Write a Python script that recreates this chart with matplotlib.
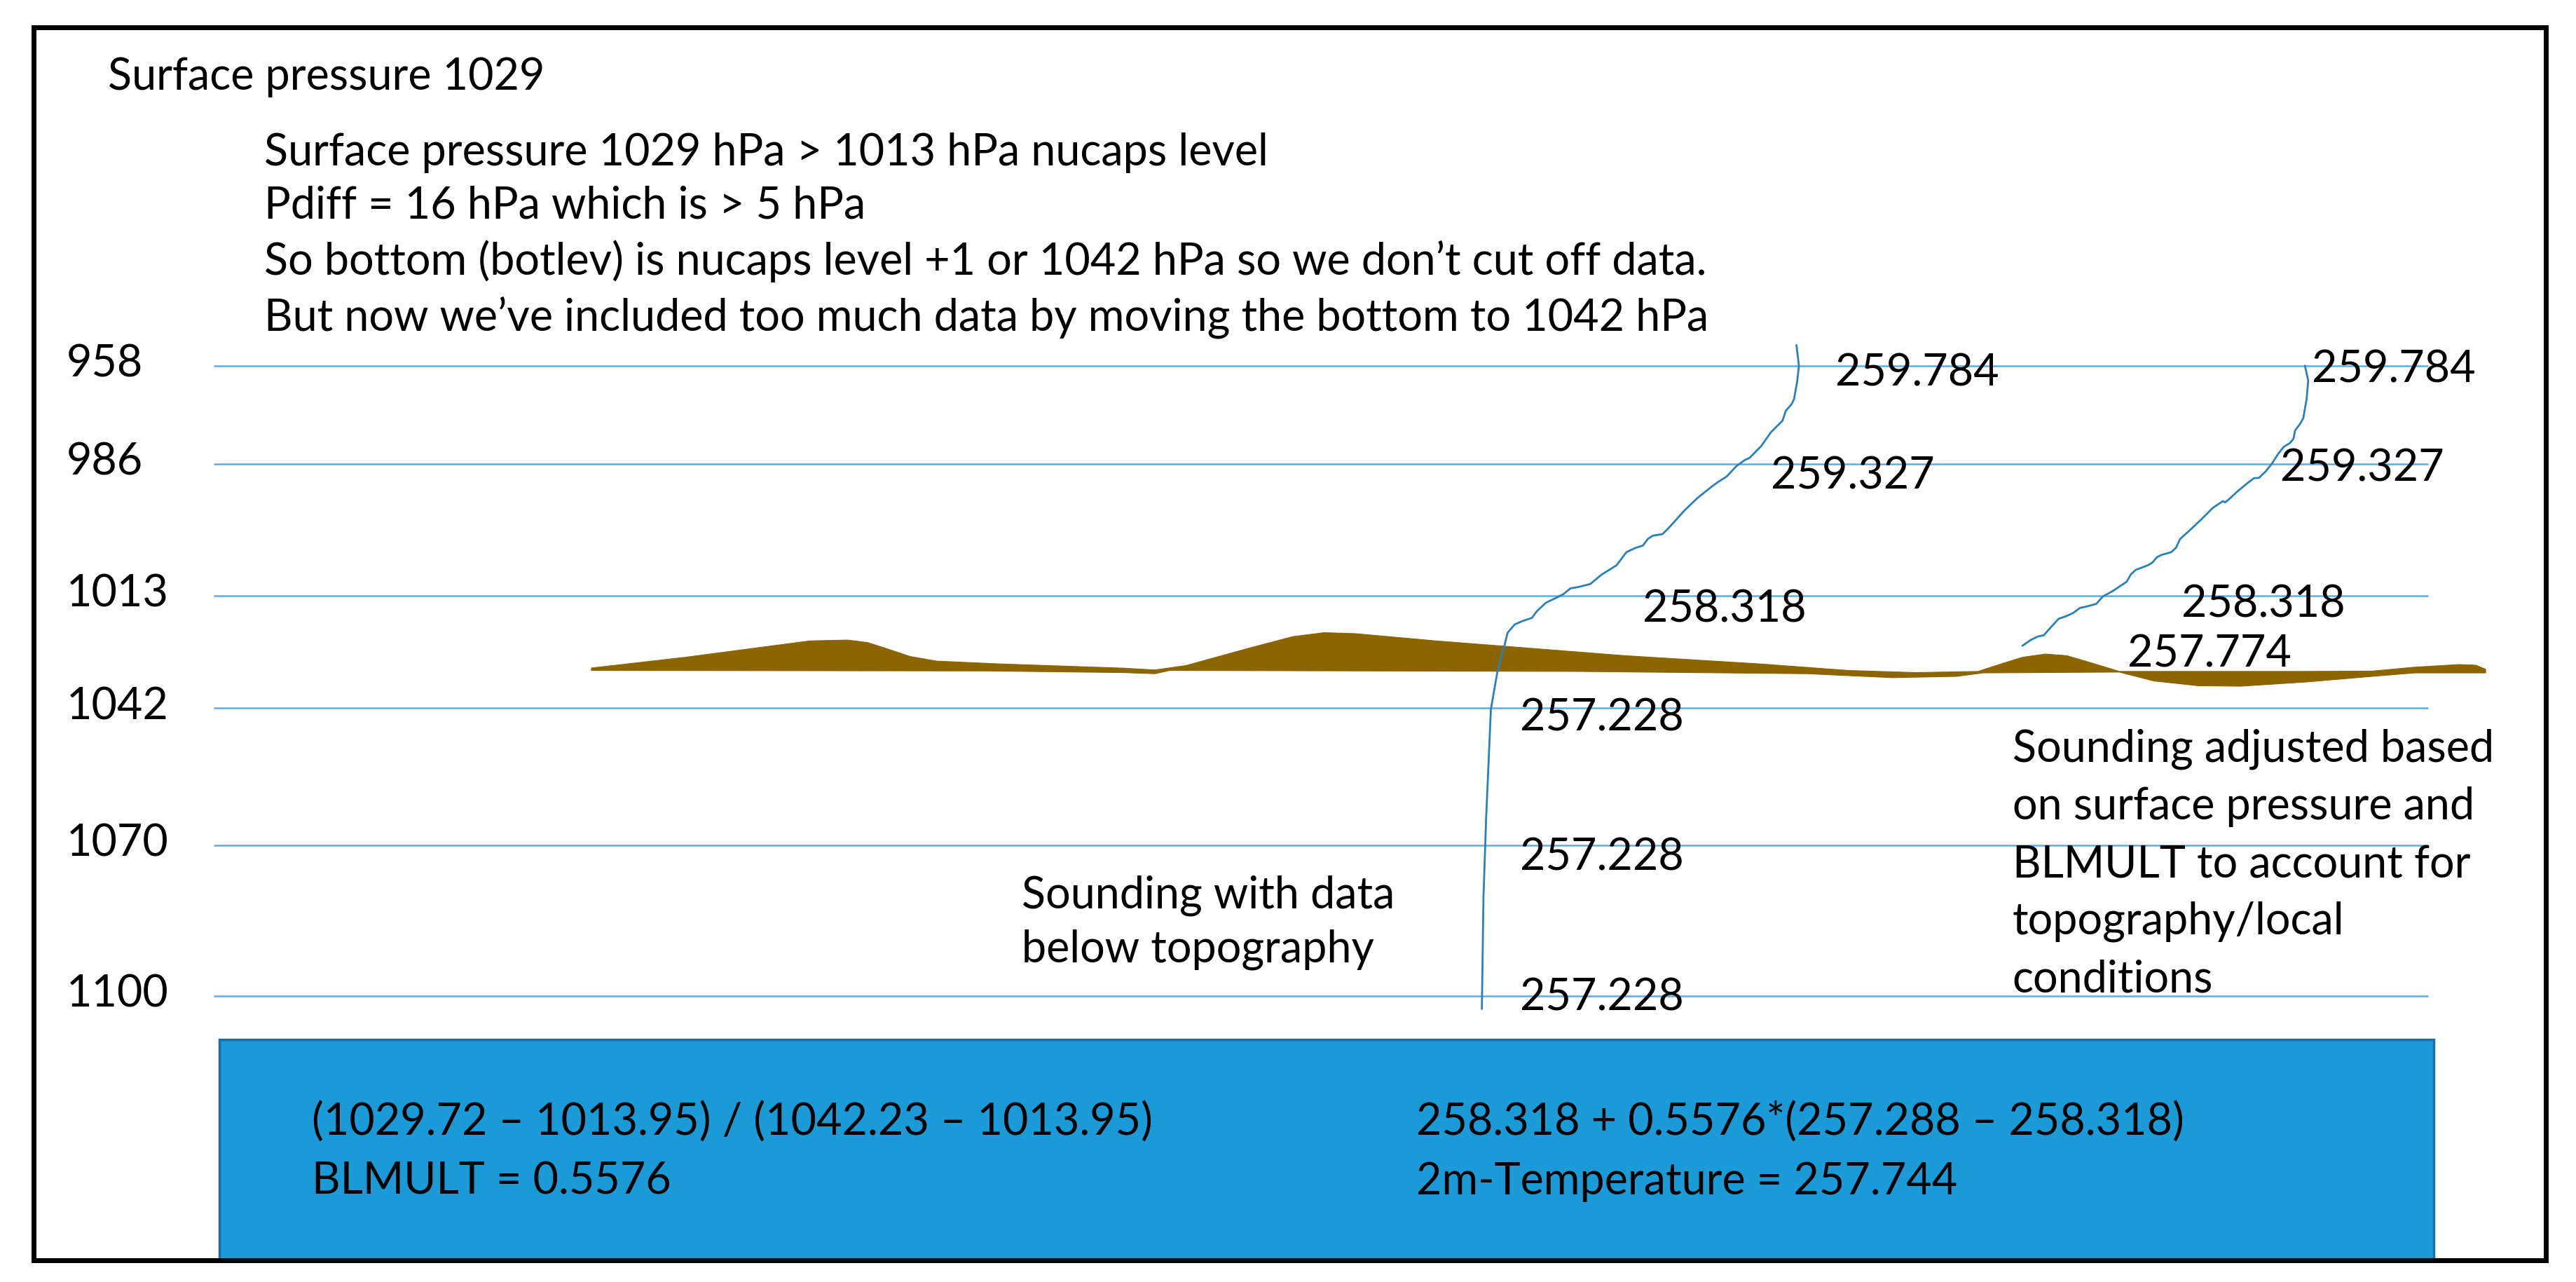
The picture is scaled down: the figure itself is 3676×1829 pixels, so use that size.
import numpy as np
import matplotlib
matplotlib.use('Agg')
import matplotlib.pyplot as plt
from matplotlib.patches import Rectangle

# ---------------- data ----------------
title_text = "Surface pressure 1029"
note_lines = [
    "Surface pressure 1029 hPa > 1013 hPa nucaps level",
    "Pdiff = 16 hPa which is > 5 hPa",
    "So bottom (botlev) is nucaps level +1 or 1042 hPa so we don\u2019t cut off data.",
    "But now we\u2019ve included too much data by moving the bottom to 1042 hPa",
]
pressure_levels = [958, 986, 1013, 1042, 1070, 1100]
temps_left = ["259.784", "259.327", "258.318", "257.228", "257.228", "257.228"]
temps_right = ["259.784", "259.327", "258.318", "257.774"]
caption_left = ["Sounding with data", "below topography"]
caption_right = ["Sounding adjusted based", "on surface pressure and",
                 "BLMULT to account for", "topography/local", "conditions"]
box_left = ["(1029.72 \u2013 1013.95) / (1042.23 \u2013 1013.95)", "BLMULT = 0.5576"]
box_right = ["258.318 + 0.5576*(257.288 \u2013 258.318)", "2m-Temperature = 257.744"]

# sounding traces (diagram units: x along transect, y down the page)
snd1_x = [1093.5, 1095, 1094, 1092, 1090.5, 1087, 1085, 1084, 1078, 1072, 1065, 1062, 1057,
          1051, 1045.5, 1042.5, 1033.5, 1025, 1016, 1012, 1006, 1003, 1000, 995.6, 990, 987,
          984, 975, 968, 960, 956, 951.6, 945.6, 941, 935.4, 932.5, 926.6, 922, 917.7, 915.5,
          911.5, 907.5, 904.6, 903, 902]
snd1_y = [210, 222.6, 231.7, 243, 246, 250, 256, 257, 263, 271.5, 278.6, 280, 283.6, 290,
          293.5, 295.7, 302.8, 311, 321, 325, 326, 328, 332, 333.4, 336, 340, 344, 349.6,
          355.4, 357.4, 358, 361.6, 364.6, 366.8, 372, 376, 378, 380, 385, 393.8, 408.6,
          431.5, 498, 545.5, 614]
snd2_x = [1403, 1405, 1404, 1402, 1400, 1397, 1396, 1394, 1390, 1386.5, 1383, 1379, 1375,
          1372, 1368, 1362, 1357, 1354.5, 1353, 1347, 1340, 1333, 1327, 1324.5, 1321.6, 1316,
          1313, 1310, 1307.4, 1300, 1297, 1294.5, 1290, 1286, 1280, 1276, 1270.5, 1266, 1262,
          1257.6, 1253, 1249, 1244, 1240.6, 1236, 1231]
snd2_y = [222.5, 231.7, 243, 254.5, 258, 262, 267, 269.5, 272, 276.5, 282, 287, 290.8, 291,
          294, 299, 303.6, 305.7, 305, 309, 316, 322.6, 328, 333.4, 336, 337.6, 339, 342.5,
          344, 346.8, 349.6, 354, 357, 359.7, 363, 367.5, 369, 370, 373, 375, 376.6, 381,
          386.6, 387.3, 389.5, 393]

# topography outline
terrain_top_x = [360, 417, 455, 493, 516, 528, 539, 554, 570, 608, 684, 703, 722, 760, 787,
                 806, 825, 874, 938, 989, 1071, 1125, 1166, 1204, 1215, 1231, 1245, 1258,
                 1274, 1290, 1340, 1400, 1444, 1470, 1497, 1507, 1513]
terrain_top_y = [406.5, 400, 395, 390, 389.5, 391, 394.5, 399.5, 402.3, 404, 406.6, 407.7,
                 405, 394.5, 387.4, 385, 385.6, 390, 395, 399, 404, 408, 409.3, 408.6, 405,
                 400, 398, 399, 403.7, 408.6, 408.6, 408.6, 408.4, 406, 404.4, 404.8, 407.3]
terrain_bot_x = [1513, 1470, 1444, 1404, 1364, 1338, 1311, 1290, 1207, 1191, 1152, 1100,
                 960, 712, 703, 684, 600, 360]
terrain_bot_y = [409.5, 409.5, 411.6, 415, 417.6, 417.3, 414.4, 409, 409.5, 411.6, 412.4,
                 410, 408.6, 408, 410, 409.3, 408.3, 408]

# ---------------- layout ----------------
W, H = 3676, 1829
S = W / 1568.0
HU = H / S
FONT = ['Lato', 'DejaVu Sans']

level_y = [222.5, 282.5, 362.5, 431.0, 514.5, 606.0]
tl_pos = [(1117, 227), (1078, 290), (1000, 371), (925, 437), (925, 522), (925, 607)]
tr_pos = [(1407, 225), (1388, 285), (1328, 368), (1295, 398)]

fig = plt.figure(figsize=(W / 100, H / 100), dpi=100)
ax = fig.add_axes([0, 0, 1, 1])
ax.set_xlim(0, 1568)
ax.set_ylim(HU, 0)
ax.axis('off')

# font size fitted so the long note lines match their widths in the picture
fig.canvas.draw()
rend = fig.canvas.get_renderer()
ratios = []
for s, target in zip([note_lines[0], note_lines[2], note_lines[3]], [603, 884, 886]):
    probe = ax.text(0, 0, s, fontsize=40, family=FONT)
    wpx = probe.get_window_extent(rend).width
    ratios.append((target * S) / wpx)
    probe.remove()
FS = 40 * float(np.mean(ratios))

def txt(x, y, s):
    ax.text(x, y, s, fontsize=FS, family=FONT, ha='left', va='center',
            color='black', zorder=6)

# outer frame
ax.add_patch(Rectangle((20.5, 16.5), 1529, 750.5, fill=False, edgecolor='black',
                       linewidth=5, zorder=10))

# blue formula box
ax.add_patch(Rectangle((133.5, 632.5), 1348, 134, facecolor='#1A9BD8',
                       edgecolor='#1B6FA3', linewidth=2.5, zorder=2))

# pressure level lines
ax.hlines(level_y, 130, 1478, color='#5DADE2', linewidth=1.8, zorder=1)
for p, y in zip(pressure_levels, level_y):
    txt(40.5, y - 1, str(p))

# topography
tx = terrain_top_x + terrain_bot_x
ty = terrain_top_y + terrain_bot_y
ax.fill(tx, ty, color='#8C6400', linewidth=0.8, edgecolor='#8C6400', zorder=3)

# soundings
ax.plot(snd1_x, snd1_y, color='#2A80B9', linewidth=2.0, zorder=4,
        solid_joinstyle='round', solid_capstyle='round')
ax.plot(snd2_x, snd2_y, color='#2A80B9', linewidth=2.0, zorder=4,
        solid_joinstyle='round', solid_capstyle='round')

# texts
txt(65.5, 47, title_text)
for s, y in zip(note_lines, [93, 125, 159, 193]):
    txt(161, y, s)
for s, (x, y) in zip(temps_left, tl_pos):
    txt(x, y, s)
for s, (x, y) in zip(temps_right, tr_pos):
    txt(x, y, s)
for s, y in zip(caption_left, [545, 578]):
    txt(622, y, s)
for s, y in zip(caption_right, [456, 491, 526.5, 561, 596]):
    txt(1225, y, s)
for s, y in zip(box_left, [683, 719]):
    txt(190, y, s)
for s, y in zip(box_right, [683, 719]):
    txt(862, y, s)

fig.savefig('out.png', dpi=100, facecolor='white')
